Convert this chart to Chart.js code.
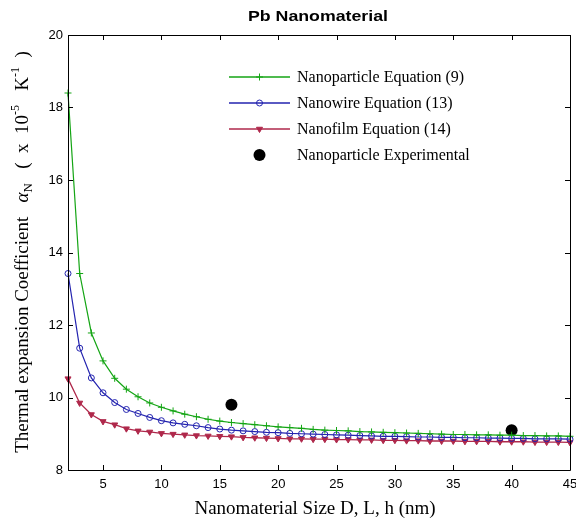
<!DOCTYPE html>
<html>
<head>
<meta charset="utf-8">
<script src="https://cdn.jsdelivr.net/npm/chart.js@4/dist/chart.umd.min.js"></script>
<style>
  html, body { margin: 0; padding: 0; background: #fff; }
  #wrap { width: 576px; height: 519px; position: relative; }
</style>
</head>
<body>
<div id="wrap"><canvas id="c" width="576" height="519"></canvas></div>
<script>
// Size D, L, h (nm)
const sizes = [2,3,4,5,6,7,8,9,10,11,12,13,14,15,16,17,18,19,20,21,22,23,24,25,26,27,28,29,30,31,32,33,34,35,36,37,38,39,40,41,42,43,44,45];

// Thermal expansion coefficient (x 10^-5 K^-1)
const nanoparticleEq9 = [18.4,13.42,11.78,11.01,10.53,10.23,10.02,9.85,9.73,9.63,9.54,9.47,9.40,9.35,9.31,9.28,9.25,9.22,9.19,9.17,9.15,9.12,9.10,9.09,9.08,9.06,9.05,9.04,9.03,9.02,9.01,9.00,8.99,8.98,8.98,8.97,8.97,8.96,8.96,8.95,8.95,8.94,8.94,8.93];
const nanowireEq13 = [13.42,11.36,10.54,10.13,9.86,9.67,9.56,9.45,9.36,9.30,9.26,9.22,9.17,9.13,9.10,9.08,9.06,9.04,9.03,9.01,9.00,8.99,8.98,8.97,8.96,8.95,8.94,8.93,8.93,8.92,8.91,8.91,8.90,8.90,8.89,8.89,8.88,8.88,8.87,8.87,8.86,8.86,8.86,8.85];
const nanofilmEq14 = [10.52,9.85,9.53,9.34,9.25,9.14,9.08,9.05,9.01,8.99,8.97,8.95,8.94,8.93,8.92,8.90,8.89,8.88,8.87,8.86,8.86,8.85,8.85,8.84,8.84,8.83,8.83,8.82,8.82,8.81,8.81,8.80,8.80,8.80,8.79,8.79,8.79,8.78,8.78,8.78,8.77,8.77,8.77,8.76];

const expSizes = [16, 40];
const expValues = [9.8, 9.1];

const xTicks = [5,10,15,20,25,30,35,40,45];
const yTicks = [8,10,12,14,16,18,20];

const seriesNames = ['Nanoparticle Equation (9)', 'Nanowire Equation (13)', 'Nanofilm Equation (14)', 'Nanoparticle Experimental'];

const GREEN = 'rgb(20,165,20)';
const BLUE = 'rgb(35,35,175)';
const RED = 'rgb(175,40,75)';
const BLACK = '#000';

const SERIF = '"Liberation Serif", "Times New Roman", serif';
const SANS = '"Liberation Sans", Arial, sans-serif';

const toXY = (xs, ys) => xs.map((x, i) => ({x: x, y: ys[i]}));

// Frame with inward ticks on all four sides, title, axis titles and legend
const decorations = {
  id: 'decorations',
  afterDraw(chart) {
    const ctx = chart.ctx;
    const a = chart.chartArea;
    const xs = chart.scales.x, ys = chart.scales.y;
    ctx.save();
    ctx.strokeStyle = '#000';
    ctx.lineWidth = 1;
    ctx.beginPath();
    ctx.rect(Math.round(a.left) + 0.5, Math.round(a.top) + 0.5, Math.round(a.right - a.left), Math.round(a.bottom - a.top));
    ctx.stroke();
    const tl = 5;
    ctx.beginPath();
    xTicks.forEach(v => {
      const px = Math.round(xs.getPixelForValue(v)) + 0.5;
      ctx.moveTo(px, a.bottom); ctx.lineTo(px, a.bottom - tl);
      ctx.moveTo(px, a.top); ctx.lineTo(px, a.top + tl);
    });
    yTicks.forEach(v => {
      const py = Math.round(ys.getPixelForValue(v)) + 0.5;
      ctx.moveTo(a.left, py); ctx.lineTo(a.left + tl, py);
      ctx.moveTo(a.right, py); ctx.lineTo(a.right - tl, py);
    });
    ctx.stroke();

    // tick labels
    ctx.fillStyle = '#000';
    ctx.font = '13px ' + SANS;
    ctx.textAlign = 'center';
    ctx.textBaseline = 'top';
    xTicks.forEach(v => ctx.fillText(String(v), xs.getPixelForValue(v), a.bottom + 8));
    ctx.textAlign = 'right';
    ctx.textBaseline = 'middle';
    yTicks.forEach(v => ctx.fillText(String(v), a.left - 5, ys.getPixelForValue(v)));

    // title
    ctx.save();
    ctx.font = 'bold 14px ' + SANS;
    const title = 'Pb Nanomaterial';
    const tw = ctx.measureText(title).width;
    ctx.translate(318, 17);
    ctx.scale(140 / tw, 1);
    ctx.textAlign = 'center';
    ctx.textBaseline = 'middle';
    ctx.fillText(title, 0, 0);
    ctx.restore();

    // x axis title
    ctx.font = '19px ' + SERIF;
    ctx.textAlign = 'center';
    ctx.textBaseline = 'alphabetic';
    ctx.fillText('Nanomaterial Size D, L, h (nm)', 315, 514);

    // y axis title with sub/superscripts
    const parts = [
      {t: 'Thermal expansion Coefficient   ', f: '19px', dy: 0},
      {t: '\u03B1', f: 'italic 19px', dy: 0},
      {t: 'N', f: '13px', dy: 4},
      {t: '   (  x  10', f: '19px', dy: 0},
      {t: '-5', f: '12px', dy: -9},
      {t: '   K', f: '19px', dy: 0},
      {t: '-1', f: '12px', dy: -9},
      {t: '  )', f: '19px', dy: 0}
    ];
    let total = 0;
    parts.forEach(p => { ctx.font = p.f + ' ' + SERIF; p.w = ctx.measureText(p.t).width; total += p.w; });
    ctx.save();
    ctx.translate(28, 252);
    ctx.rotate(-Math.PI / 2);
    ctx.textAlign = 'left';
    let cx = -total / 2;
    parts.forEach(p => {
      ctx.font = p.f + ' ' + SERIF;
      ctx.fillText(p.t, cx, p.dy);
      cx += p.w;
    });
    ctx.restore();

    // legend
    const lx0 = 229, lx1 = 290, tx = 297;
    const rowsY = [77, 103, 129, 155];
    const lineColors = [GREEN, BLUE, RED, BLACK];
    chart.data.datasets.forEach((ds, i) => {
      const y = rowsY[i];
      const col = lineColors[i];
      if (i < 3) {
        ctx.save();
        ctx.strokeStyle = col;
        ctx.lineWidth = 1.6;
        ctx.beginPath();
        ctx.moveTo(lx0, y); ctx.lineTo(lx1, y);
        ctx.stroke();
        ctx.restore();
      }
      ctx.save();
      ctx.fillStyle = i === 1 ? 'rgba(255,255,255,0)' : col;
      ctx.strokeStyle = col;
      ctx.lineWidth = 1;
      Chart.helpers.drawPoint(ctx, {
        pointStyle: ds.pointStyle,
        rotation: ds.pointRotation || 0,
        radius: ds.pointRadius,
        borderWidth: i === 3 ? 0 : 1
      }, (lx0 + lx1) / 2, y);
      ctx.restore();
      ctx.fillStyle = '#000';
      ctx.font = '16px ' + SERIF;
      ctx.textAlign = 'left';
      ctx.textBaseline = 'middle';
      ctx.fillText(seriesNames[i], tx, y + 1);
    });
    ctx.restore();
  }
};

new Chart(document.getElementById('c'), {
  type: 'scatter',
  data: {
    datasets: [
      {
        label: seriesNames[0],
        data: toXY(sizes, nanoparticleEq9),
        showLine: true,
        clip: false,
        borderColor: GREEN,
        borderWidth: 1.2,
        pointStyle: 'cross',
        pointRadius: 3.5,
        pointBorderColor: GREEN,
        pointBackgroundColor: GREEN,
        pointBorderWidth: 1
      },
      {
        label: seriesNames[1],
        data: toXY(sizes, nanowireEq13),
        showLine: true,
        clip: false,
        borderColor: BLUE,
        borderWidth: 1.2,
        pointStyle: 'circle',
        pointRadius: 3,
        pointBorderColor: BLUE,
        pointBackgroundColor: 'rgba(255,255,255,0)',
        pointBorderWidth: 1
      },
      {
        label: seriesNames[2],
        data: toXY(sizes, nanofilmEq14),
        showLine: true,
        clip: false,
        borderColor: RED,
        borderWidth: 1.3,
        pointStyle: 'triangle',
        pointRotation: 180,
        pointRadius: 3.5,
        pointBorderColor: RED,
        pointBackgroundColor: RED,
        pointBorderWidth: 1
      },
      {
        label: seriesNames[3],
        data: toXY(expSizes, expValues),
        showLine: false,
        clip: false,
        borderColor: BLACK,
        pointStyle: 'circle',
        pointRadius: 6,
        pointBorderColor: BLACK,
        pointBackgroundColor: BLACK,
        pointBorderWidth: 0
      }
    ]
  },
  options: {
    responsive: false,
    animation: false,
    events: [],
    layout: { padding: { left: 0, right: 6, top: 35, bottom: 0 } },
    plugins: { legend: { display: false }, tooltip: { enabled: false }, title: { display: false } },
    scales: {
      x: {
        type: 'linear', min: 2, max: 45,
        grid: { display: false }, border: { display: false },
        ticks: { display: false },
        afterFit(s) { s.height = 49; }
      },
      y: {
        type: 'linear', min: 8, max: 20,
        grid: { display: false }, border: { display: false },
        ticks: { display: false },
        afterFit(s) { s.width = 68; }
      }
    }
  },
  plugins: [decorations]
});
</script>
</body>
</html>
